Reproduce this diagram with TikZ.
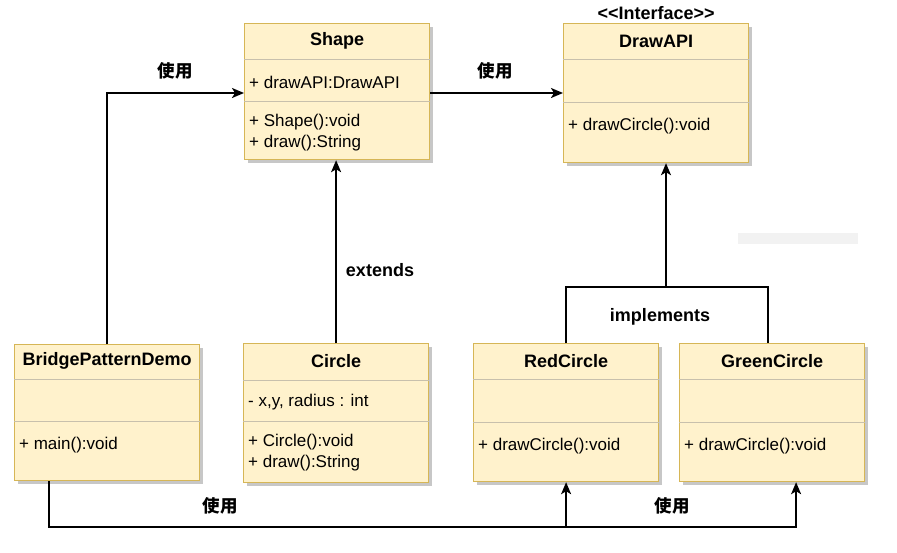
\documentclass[tikz,border=0pt]{standalone}
\usepackage{fontspec}
\setmainfont{Liberation Sans}
\newfontfamily\cjk{Noto Sans CJK SC}
\usepackage{tikz}
\usetikzlibrary{positioning,arrows.meta,calc,shadows}
\definecolor{umlfill}{HTML}{FFF2CC}
\definecolor{umlline}{HTML}{D6B656}
\definecolor{umlsplit}{HTML}{C8C0AC}

\begin{document}
\begin{tikzpicture}[
  x=1pt, y=-1pt,
  cls/.style={draw=umlline, line width=1.2pt, fill=umlfill, anchor=north west, inner sep=0pt, minimum width=185pt,
    general shadow={fill=black!22, shadow xshift=3pt, shadow yshift=-3pt}},
  split/.style={draw=umlsplit, line width=0.9pt},
  ttl/.style={font=\fontsize{18}{22}\selectfont\bfseries, inner sep=0pt},
  mem/.style={anchor=west, inner sep=0pt, font=\fontsize{17}{21}\selectfont},
  lbl/.style={font=\fontsize{18}{22}\selectfont\bfseries, inner sep=0pt},
  zh/.style={font=\fontsize{17.5}{22}\selectfont\cjk\bfseries, inner sep=0pt},
  arr/.style={-{Stealth[length=12pt,width=10pt,inset=3pt]}, line width=1.8pt}
]
\useasboundingbox (0,0) rectangle (897,552);
\fill[black!5] (738,233) rectangle (858,244);

% classes
\node[cls, minimum height=136pt] (shape) at (244,23) {};
\node[cls, minimum height=139pt] (drawapi) at (563,23) {};
\node[cls, minimum height=136pt] (demo) at (14,344) {};
\node[cls, minimum height=139pt] (circle) at (243,343) {};
\node[cls, minimum height=138pt] (red) at (473,343) {};
\node[cls, minimum height=138pt] (green) at (679,343) {};

\draw[split] ($(shape.north west)+(0,36)$) -- ($(shape.north east)+(0,36)$); \draw[split] ($(shape.north west)+(0,78)$) -- ($(shape.north east)+(0,78)$);
\draw[split] ($(drawapi.north west)+(0,36)$) -- ($(drawapi.north east)+(0,36)$); \draw[split] ($(drawapi.north west)+(0,79)$) -- ($(drawapi.north east)+(0,79)$);
\draw[split] ($(demo.north west)+(0,35)$) -- ($(demo.north east)+(0,35)$); \draw[split] ($(demo.north west)+(0,77)$) -- ($(demo.north east)+(0,77)$);
\draw[split] ($(circle.north west)+(0,37)$) -- ($(circle.north east)+(0,37)$); \draw[split] ($(circle.north west)+(0,78)$) -- ($(circle.north east)+(0,78)$);
\draw[split] ($(red.north west)+(0,36)$) -- ($(red.north east)+(0,36)$); \draw[split] ($(red.north west)+(0,79)$) -- ($(red.north east)+(0,79)$);
\draw[split] ($(green.north west)+(0,36)$) -- ($(green.north east)+(0,36)$); \draw[split] ($(green.north west)+(0,79)$) -- ($(green.north east)+(0,79)$);

\node[ttl] (shapet) at ($(shape.north)+(0,18)$) {Shape};
\node[mem] (shapea) at ($(shape.north west)+(5,59)$) {+ drawAPI:DrawAPI};
\node[mem] (shapem1) at ($(shape.north west)+(5,99)$) {+ Shape():void};
\node[mem] (shapem2) at ($(shape.north west)+(5,120)$) {+ draw():String};

\node[lbl] (iface) at ($(drawapi.north)+(0,-10)$) {<{}<Interface>{}>};
\node[ttl] (drawapit) at ($(drawapi.north)+(0,18)$) {DrawAPI};
\node[mem] (drawapim) at ($(drawapi.north west)+(5,103)$) {+ drawCircle():void};

\node[ttl] (demot) at ($(demo.north)+(0,17)$) {BridgePatternDemo};
\node[mem] (demom) at ($(demo.north west)+(5,101)$) {+ main():void};

\node[ttl] (circlet) at ($(circle.north)+(0,18)$) {Circle};
\node[mem] (circlea) at ($(circle.north west)+(5,59)$) {- x,y, radius : int};
\node[mem] (circlem1) at ($(circle.north west)+(5,99)$) {+ Circle():void};
\node[mem] (circlem2) at ($(circle.north west)+(5,120)$) {+ draw():String};

\node[ttl] (redt) at ($(red.north)+(0,18)$) {RedCircle};
\node[mem] (redm) at ($(red.north west)+(5,103)$) {+ drawCircle():void};

\node[ttl] (greent) at ($(green.north)+(0,18)$) {GreenCircle};
\node[mem] (greenm) at ($(green.north west)+(5,103)$) {+ drawCircle():void};

% connectors
\draw[arr] (demo.north) |- ($(shape.north west)+(0,70)$);
\node[zh] (use1) at (175,71) {使用};
\draw[arr] ($(shape.north east)+(0,70)$) -- ($(drawapi.north west)+(0,70)$);
\node[zh] (use2) at (495,71) {使用};

\draw[arr] (circle.north) -- (circle.north |- shape.south);
\node[lbl] (ext) at (380,270) {extends};

\coordinate (join) at (666,287);
\coordinate (ghead) at ($(green.north)+(-4,0)$);
\draw[line width=1.8pt] (red.north) |- (join) -| (ghead);
\draw[arr] (join) -- (join |- drawapi.south);
\node[lbl] (impl) at (660,317) {implements};

\coordinate (dfoot) at ($(demo.south west)+(35,0)$);
\coordinate (gfoot) at ($(green.south)+(24,0)$);
\draw[arr] (dfoot) -- (dfoot |- 0,527) -- (gfoot |- 0,527) -- (gfoot);
\draw[arr] (red.south |- 0,527) -- (red.south);
\node[zh] (use3) at (220,506) {使用};
\node[zh] (use4) at (672,506) {使用};
\end{tikzpicture}
\end{document}
